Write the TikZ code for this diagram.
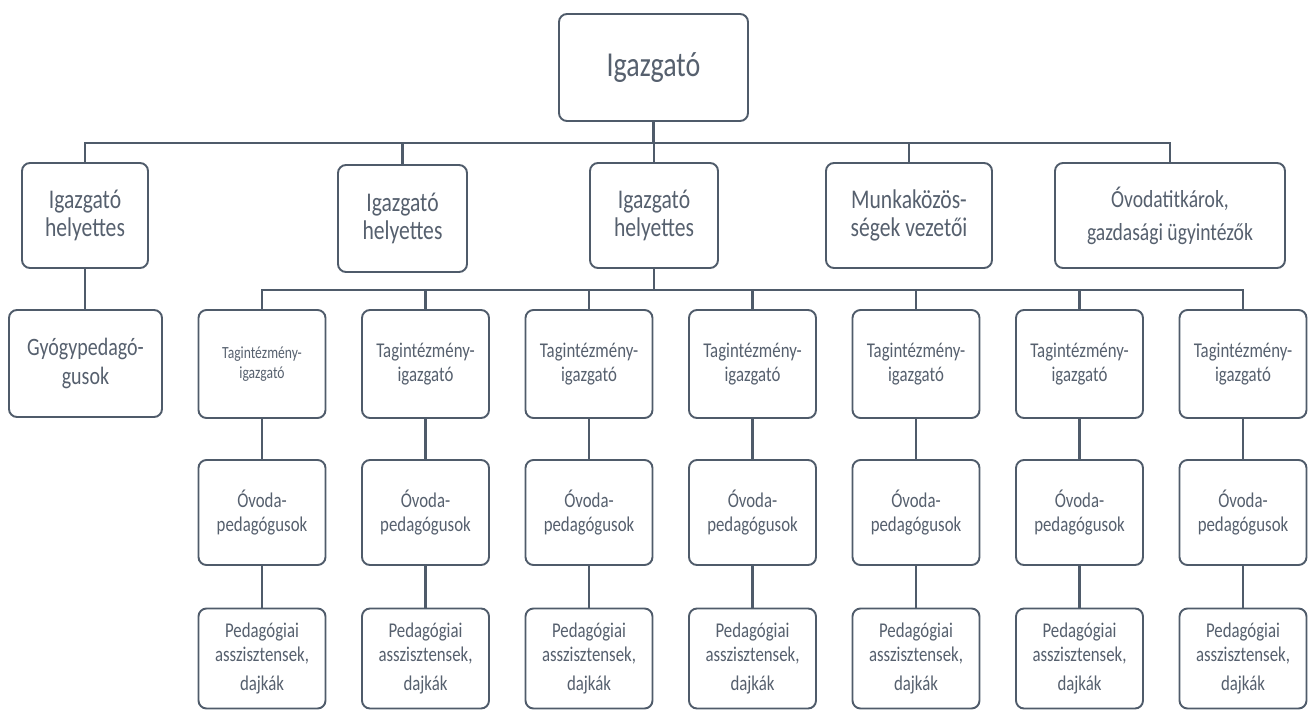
\documentclass[tikz,border=0pt]{standalone}
\usepackage{fontspec}
\setmainfont{Carlito}[FakeStretch=0.8]
\definecolor{txt}{HTML}{56606E}
\definecolor{ln}{HTML}{4F5B6A}
\begin{document}
\begin{tikzpicture}[x=1pt,y=-1pt,
  box/.style={draw=ln, line width=1.9pt, rounded corners=8pt, align=center, text=txt, inner sep=2pt},
  conn/.style={draw=ln, line width=2.2pt},
  fbig/.style={font=\fontsize{35}{40}\selectfont},
  fmid/.style={font=\fontsize{27}{28}\selectfont},
  fsml/.style={font=\fontsize{21}{24}\selectfont}]
\useasboundingbox (0,0) rectangle (1311,711);
\fill[white] (0,0) rectangle (1311,711);

% top
\node[box, fbig, minimum width=189pt, minimum height=107pt] (top) at (653.5,67.5) {Igazgató};

% level 2
\node[box, fmid, minimum width=126pt, minimum height=105pt] (A) at (85,215.5) {Igazgató\\helyettes};
\node[box, fmid, minimum width=129pt, minimum height=107pt] (B) at (402.5,218.5) {Igazgató\\helyettes};
\node[box, fmid, minimum width=128pt, minimum height=105pt] (C) at (654,215.5) {Igazgató\\helyettes};
\node[box, fmid, minimum width=166pt, minimum height=105pt] (D) at (909,215.5) {Munkaközös-\\ségek vezetői};
\node[box, font=\fontsize{24.5}{33}\selectfont, minimum width=230pt, minimum height=105pt] (E) at (1170,215.5) {Óvodatitkárok,\\gazdasági ügyintézők};

% Gyógypedagógusok
\node[box, font=\fontsize{25}{29}\selectfont, minimum width=153pt, minimum height=107pt] (G) at (85.5,363.5) {Gyógypedagó-\\gusok};

% bus coordinates
\coordinate (bus1) at (653.5,143);
\coordinate (bus2) at (654,290);

\draw[conn] (top.south) -- (top.south |- bus1);
\foreach \n in {A,B,C,D,E} {
  \draw[conn] (top.south |- bus1) -| (\n.north);
}
\draw[conn] (A.south) -- (A.south |- G.north);

% columns
\foreach \i/\x in {1/262,2/425.5,3/589,4/752.5,5/916,6/1079.5,7/1243} {
  \ifnum\i=1
    \node[box, font=\fontsize{17}{20}\selectfont, minimum width=127pt, minimum height=108pt] (T\i) at (\x,364) {Tagintézmény-\\igazgató};
  \else
    \node[box, fsml, minimum width=127pt, minimum height=108pt] (T\i) at (\x,364) {Tagintézmény-\\igazgató};
  \fi
  \node[box, fsml, minimum width=127pt, minimum height=105pt] (O\i) at (\x,512.5) {Óvoda-\\pedagógusok};
  \node[box, fsml, minimum width=127pt, minimum height=100pt] (P\i) at (\x,658.5) {Pedagógiai\\asszisztensek,\\[5pt]dajkák};
  \draw[conn] (C.south) -- (C.south |- bus2) -| (T\i.north);
  \draw[conn] (T\i.south) -- (O\i.north);
  \draw[conn] (O\i.south) -- (P\i.north);
}
\end{tikzpicture}
\end{document}
